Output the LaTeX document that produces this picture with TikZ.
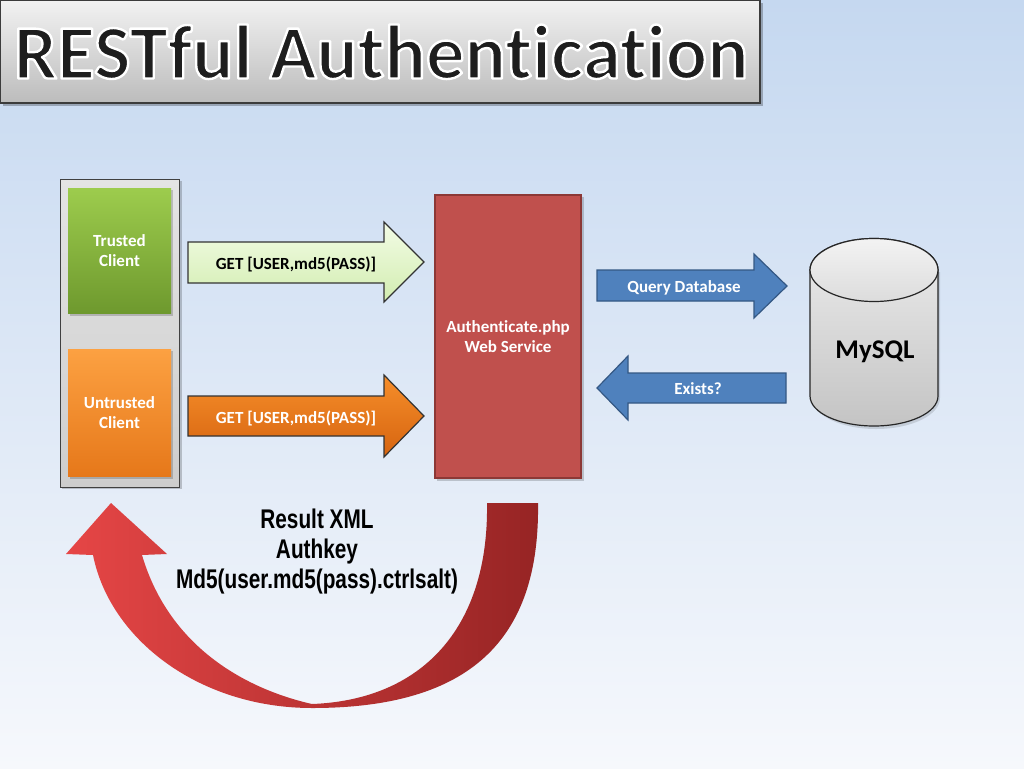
\documentclass[tikz,border=0pt]{standalone}
\usepackage{fontspec}
\setmainfont{Carlito}[Ligatures=NoCommon]
\newfontfamily\arialn[FakeStretch=0.77]{Liberation Sans}
\definecolor{bgtop}{RGB}{197,216,240}
\definecolor{bgmid}{RGB}{222,233,246}
\definecolor{bgbot}{RGB}{246,248,252}
\definecolor{ttop}{RGB}{242,242,242}
\definecolor{tbot}{RGB}{188,188,188}
\definecolor{tborder}{RGB}{60,60,60}
\definecolor{ttext}{RGB}{30,30,30}
\definecolor{ctop}{RGB}{228,228,228}
\definecolor{cbot}{RGB}{205,205,205}
\definecolor{gtop}{RGB}{157,204,77}
\definecolor{gbot}{RGB}{110,153,46}
\definecolor{otop}{RGB}{252,161,66}
\definecolor{obot}{RGB}{230,120,26}
\definecolor{lgtop}{RGB}{243,252,230}
\definecolor{lgbot}{RGB}{210,237,176}
\definecolor{oatop}{RGB}{246,142,42}
\definecolor{oabot}{RGB}{214,100,16}
\definecolor{redbox}{RGB}{192,80,77}
\definecolor{redborder}{RGB}{140,56,54}
\definecolor{bluefill}{RGB}{79,129,189}
\definecolor{blueborder}{RGB}{52,88,132}
\definecolor{cylA}{RGB}{243,243,243}
\definecolor{cylB}{RGB}{220,220,220}
\definecolor{cylC}{RGB}{236,236,236}
\definecolor{cylD}{RGB}{196,196,196}
\definecolor{carl}{RGB}{230,70,70}
\definecolor{carr}{RGB}{150,36,36}
\usetikzlibrary{calc}
\begin{document}
\begin{tikzpicture}[x=1pt,y=-1pt,
  lbl/.style={font=\bfseries\fontsize{17}{20}\selectfont, align=center, inner sep=0pt},
  wlbl/.style={lbl, text=white},
  blockarrow/.style={draw=#1, line width=1.2pt, line join=miter},
  titlefont/.style={font=\bfseries\fontsize{77}{77}\selectfont, inner sep=0pt, anchor=base}
]
\useasboundingbox (0,0) rectangle (1024,768);
% background
\shade[top color=bgtop, middle color=bgmid, bottom color=bgbot] (0,0) rectangle (1024,768);

% title box
\fill[black, opacity=0.25] (3,3) rectangle (763,106);
\shade[top color=ttop, bottom color=tbot, draw=tborder, line width=1.2pt] (0.6,0.6) rectangle (760,103);
\node[titlefont, text=ttext] (title) at (381,78.5)
  {\special{pdf:literal direct 1 j 2.4 w 1 1 1 RG 2 Tr}RESTful Authentication\special{pdf:literal direct 0 Tr}};

% client container
\fill[black, opacity=0.2] (62,181) rectangle (182,489);
\shade[top color=ctop, bottom color=cbot, draw=black!75, line width=1pt] (60,179) rectangle (179,487);
\fill[black, opacity=0.18] (70,190) rectangle (173,316);
\shade[top color=gtop, bottom color=gbot] (68,188) rectangle (171,313);
\node[wlbl] (trusted) at (119.5,251) {Trusted\\Client};
\fill[black, opacity=0.18] (70,351) rectangle (173,479);
\shade[top color=otop, bottom color=obot] (68,349) rectangle (171,476);
\node[wlbl] (untrusted) at (119.5,413) {Untrusted\\Client};

% request arrows
\shade[top color=lgtop, bottom color=lgbot, blockarrow=black!80]
  (188,242) -- (384,242) -- (384,222) -- (424,262) -- (384,302) -- (384,283) -- (188,283) -- cycle;
\node[lbl, anchor=base] (getA) at (296,269) {GET [USER,md5(PASS)]};
\shade[top color=oatop, bottom color=oabot, blockarrow=black!80]
  (188,396) -- (384,396) -- (384,375) -- (424,416) -- (384,457) -- (384,436) -- (188,436) -- cycle;
\node[wlbl, anchor=base] (getB) at (296,423) {GET [USER,md5(PASS)]};

% web service
\fill[black, opacity=0.18] (437,197) rectangle (584,481);
\fill[redbox, draw=redborder, line width=2pt] (435,195) rectangle (581,478);
\node[wlbl] (auth) at (508,337) {Authenticate.php\\Web Service};

% database arrows
\fill[bluefill, blockarrow=blueborder]
  (597,270) -- (754,270) -- (754,254) -- (787,286) -- (754,318) -- (754,301) -- (597,301) -- cycle;
\node[wlbl, anchor=base] (query) at (684,292) {Query Database};
\fill[bluefill, blockarrow=blueborder]
  (786,373) -- (628,373) -- (628,356) -- (597,388) -- (628,420) -- (628,403) -- (786,403) -- cycle;
\node[wlbl, anchor=base] (exists) at (698,394) {Exists?};

% database cylinder
\fill[black, opacity=0.12] (812,272) -- (812,398) arc[start angle=180, end angle=0, x radius=64, y radius=31] -- (940,272) -- cycle;
\shade[top color=cylC, bottom color=cylD, draw=black!85, line width=1.2pt]
  (810,270) -- (810,396) arc[start angle=180, end angle=0, x radius=64, y radius=30]
  -- (938,270) arc[start angle=0, end angle=-180, x radius=64, y radius=31.5] -- cycle;
\shade[top color=cylA, bottom color=cylB, draw=black!85, line width=1.2pt]
  (874,270) ellipse[x radius=64, y radius=31.5];
\node[font=\bfseries\fontsize{27}{30}\selectfont, inner sep=0pt, anchor=base] (mysql) at (875,358) {MySQL};

% curved return arrow
\shade[left color=carl, right color=carr]
  (487,503) -- (538,503)
  .. controls (540,640) and (470,708) .. (312,708)
  .. controls (200,708) and (110,640) .. (93,555)
  -- (66,554) -- (111,503) -- (167,554) -- (142,555)
  .. controls (170,650) and (250,690) .. (312,704)
  .. controls (420,700) and (489,630) .. (487,503) -- cycle;
\node[font=\arialn\bfseries\fontsize{27}{30}\selectfont, align=center, inner sep=0pt, anchor=north] (result) at (317,508.5)
  {Result XML\\Authkey\\Md5(user.md5(pass).ctrlsalt)};
\end{tikzpicture}
\end{document}
